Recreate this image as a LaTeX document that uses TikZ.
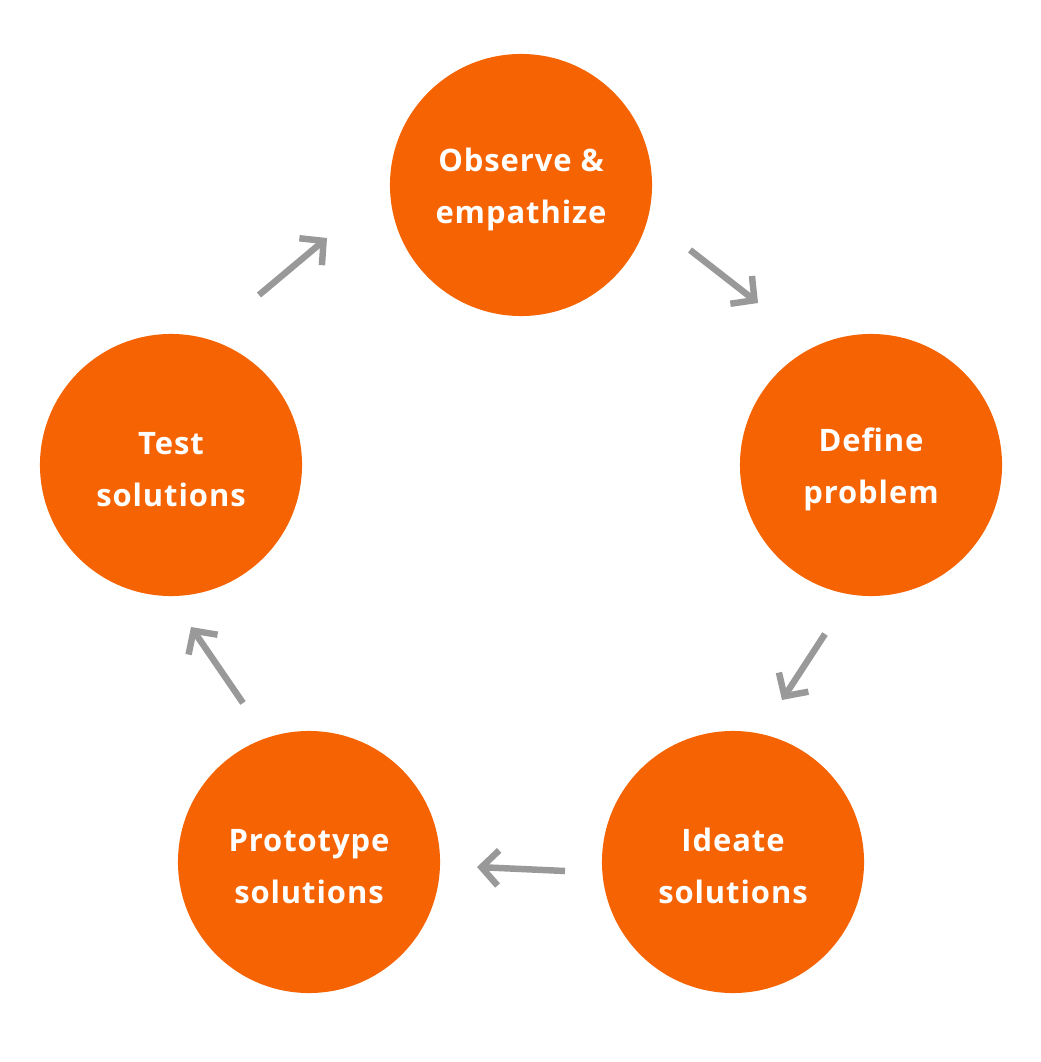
\documentclass[tikz,border=0pt]{standalone}
\usepackage{fontspec}
\setmainfont{Open Sans}[LetterSpace=3]
\usetikzlibrary{arrows.meta}
\definecolor{stageorange}{HTML}{F56302}
\definecolor{arrowgray}{HTML}{999999}
\tikzstyle{arrow} = [line width=4.6pt, arrowgray, -{Straight Barb[length=12pt, width=25pt, line width=4.6pt]}, line join=miter]
\tikzstyle{stage} = [circle, fill=stageorange, minimum size=6.55cm, inner sep=0pt]
\tikzstyle{stagetext} = [text=white, align=center, yshift=-3pt, font=\fontsize{22}{37}\selectfont\bfseries]

\begin{document}
\begin{tikzpicture}[x=0.025cm, y=-0.025cm]
\useasboundingbox (0,0) rectangle (1040,1062);

% stages of the cycle:
\node(observe)[stage, label={[stagetext]center:Observe \&\\empathize}] at (521,185) {};
\node(define)[stage, label={[stagetext]center:Define\\problem}] at (871,465) {};
\node(ideate)[stage, label={[stagetext]center:Ideate\\solutions}] at (733,862) {};
\node(prototype)[stage, label={[stagetext]center:Prototype\\solutions}] at (309,862) {};
\node(test)[stage, label={[stagetext]center:Test\\solutions}] at (171,465) {};

% arrows between stages:
\draw[arrow] ([shift={(88,-170)}]test.center) -- ([shift={(-194,53)}]observe.center);
\draw[arrow] ([shift={(169,65)}]observe.center) -- ([shift={(-113,-162)}]define.center);
\draw[arrow] ([shift={(-46,169)}]define.center) -- ([shift={(49,-162)}]ideate.center);
\draw[arrow] ([shift={(-168,9)}]ideate.center) -- ([shift={(168,5)}]prototype.center);
\draw[arrow] ([shift={(-66,-159)}]prototype.center) -- ([shift={(20,162)}]test.center);

\end{tikzpicture}
\end{document}
